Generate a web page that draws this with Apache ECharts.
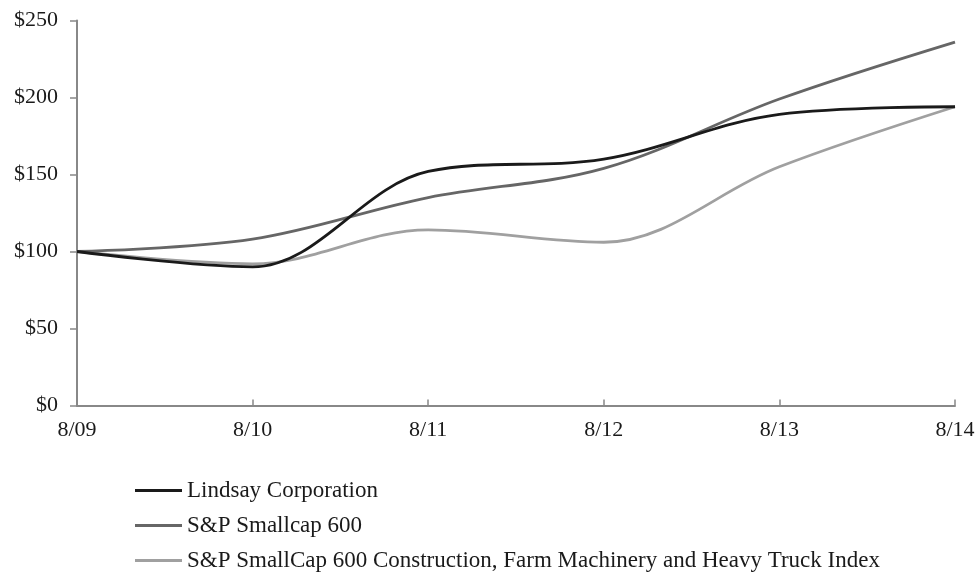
<!DOCTYPE html>
<html>
<head>
<meta charset="utf-8">
<script src="https://cdn.jsdelivr.net/npm/echarts@6/dist/echarts.min.js"></script>
<style>
html,body{margin:0;padding:0;background:#fff;}
#chart{width:980px;height:573px;}
</style>
</head>
<body>
<div id="chart"></div>
<script>
var categories = ['8/09', '8/10', '8/11', '8/12', '8/13', '8/14'];
var lindsay = [100, 90, 152, 160, 189, 194];
var smallcap = [100, 108, 135, 154, 199, 236];
var construction = [100, 92, 114, 106, 155, 194];
var seriesNames = [
  'Lindsay Corporation',
  'S&P Smallcap 600',
  'S&P SmallCap 600 Construction, Farm Machinery and Heavy Truck Index'
];

var font = '"Liberation Serif", "Times New Roman", serif';
var chart = echarts.init(document.getElementById('chart'), null, {renderer: 'canvas'});

function mk(name, data, color) {
  return {
    name: name,
    type: 'line',
    data: data,
    smooth: 0.35,
    symbol: 'none',
    showSymbol: false,
    lineStyle: {color: color, width: 2.8},
    itemStyle: {color: color},
    emphasis: {disabled: true},
    animation: false
  };
}

chart.setOption({
  animation: false,
  backgroundColor: '#ffffff',
  grid: {left: 77, right: 25, top: 20.5, bottom: 167.5, containLabel: false},
  legend: {
    orient: 'vertical',
    left: 135,
    top: 479,
    height: 94,
    padding: 0,
    icon: 'rect',
    itemWidth: 47,
    itemHeight: 3,
    itemGap: 12,
    textStyle: {fontFamily: font, fontSize: 23, lineHeight: 23, color: '#1a1a1a'},
    data: seriesNames
  },
  xAxis: {
    type: 'category',
    data: categories,
    boundaryGap: false,
    axisLine: {lineStyle: {color: '#888888', width: 2}},
    axisTick: {show: true, inside: true, length: 6, lineStyle: {color: '#888888', width: 1.5}},
    axisLabel: {fontFamily: font, fontSize: 22, color: '#1a1a1a', margin: 14, interval: 0},
    splitLine: {show: false}
  },
  yAxis: {
    type: 'value',
    min: 0,
    max: 250,
    interval: 50,
    axisLine: {show: true, lineStyle: {color: '#888888', width: 2}},
    axisTick: {show: true, inside: false, length: 7, lineStyle: {color: '#888888', width: 1.5}},
    axisLabel: {fontFamily: font, fontSize: 22, color: '#1a1a1a', margin: 19,
      formatter: function (v) { return '$' + v; }},
    splitLine: {show: false}
  },
  series: [
    mk(seriesNames[2], construction, '#a0a0a0'),
    mk(seriesNames[1], smallcap, '#666666'),
    mk(seriesNames[0], lindsay, '#1a1a1a')
  ]
});
</script>
</body>
</html>
